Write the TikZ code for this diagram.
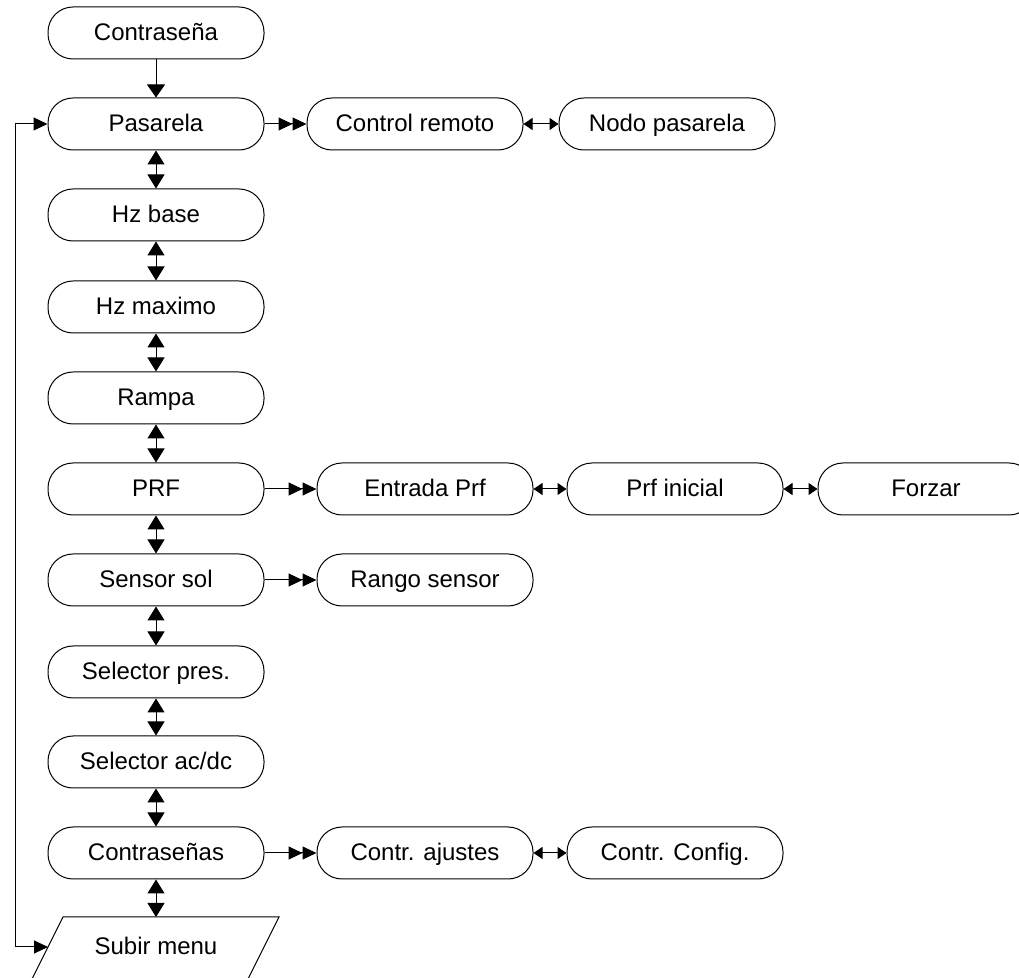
\documentclass[tikz,border=0pt]{standalone}
\usepackage{fontspec}
\setmainfont{Liberation Sans}
\usetikzlibrary{arrows.meta}
\begin{document}
\begin{tikzpicture}[x=0.5pt,y=-0.5pt,
  box/.style={draw,line width=0.5pt,rounded corners=12.5pt,minimum width=108pt,minimum height=26pt,inner sep=0pt,text height=7.6pt,text depth=0pt,font=\fontsize{12}{14}\selectfont},
  txt/.style={inner sep=0pt,text height=7.6pt,text depth=0pt,font=\fontsize{12}{14}\selectfont},
  conn/.style={line width=0.5pt},
  vv/.style={conn,{Triangle[length=7pt,width=8.5pt]}-{Triangle[length=7pt,width=8.5pt]}},
  dn/.style={conn,-{Triangle[length=6.5pt,width=9pt]}},
  dbl/.style={conn,-{Triangle[length=7pt,width=6.5pt,sep=0pt]Triangle[length=7pt,width=6.5pt]}},
  lr/.style={conn,{Triangle[length=4.5pt,width=6pt]}-{Triangle[length=4.5pt,width=6pt]}},
  loopar/.style={conn,{Triangle[length=7pt,width=6.5pt]}-{Triangle[length=7pt,width=6.5pt]}}]
\useasboundingbox (0,0) rectangle (1019,978);
\clip (0,0) rectangle (1019,978);
% main column
\node[box] (c0) at (156,33) {Contraseña};
\node[box] (c1) at (156,124) {Pasarela};
\node[box] (c2) at (156,215) {Hz base};
\node[box] (c3) at (156,307) {Hz maximo};
\node[box] (c4) at (156,398) {Rampa};
\node[box] (c5) at (156,489) {PRF};
\node[box] (c6) at (156,580) {Sensor sol};
\node[box] (c7) at (156,672) {Selector pres.};
\node[box] (c8) at (156,762) {Selector ac/dc};
\node[box] (c9) at (156,853) {Contraseñas};
% Subir menu parallelogram
\draw[line width=0.5pt] (63,917) -- (279,917) -- (245,985) -- (29,985) -- cycle;
\node[txt] (sub) at (156,947) {Subir menu};
\coordinate (subN) at (156,917);
\coordinate (subW) at (48,947);
% side nodes
\node[box] (cr) at (415,124) {Control remoto};
\node[box] (np) at (667,124) {Nodo pasarela};
\node[box] (ep) at (425,489) {Entrada Prf};
\node[box] (pi) at (675,489) {Prf inicial};
\node[box] (fz) at (926,489) {Forzar};
\node[box] (rs) at (425,580) {Rango sensor};
\node[box] (ca) at (425,853) {Contr. ajustes};
\node[box] (cc) at (675,853) {Contr. Config.};
% vertical connectors
\draw[dn] (c0.south) -- (c1.north);
\draw[vv] (c1.south) -- (c2.north);
\draw[vv] (c2.south) -- (c3.north);
\draw[vv] (c3.south) -- (c4.north);
\draw[vv] (c4.south) -- (c5.north);
\draw[vv] (c5.south) -- (c6.north);
\draw[vv] (c6.south) -- (c7.north);
\draw[vv] (c7.south) -- (c8.north);
\draw[vv] (c8.south) -- (c9.north);
\draw[vv] (c9.south) -- (subN);
% horizontal connectors
\draw[dbl] (c1.east) -- (cr.west);
\draw[lr] (cr.east) -- (np.west);
\draw[dbl] (c5.east) -- (ep.west);
\draw[lr] (ep.east) -- (pi.west);
\draw[lr] (pi.east) -- (fz.west);
\draw[dbl] (c6.east) -- (rs.west);
\draw[dbl] (c9.east) -- (ca.west);
\draw[lr] (ca.east) -- (cc.west);
% loop back
\coordinate (lt) at (15,124);
\coordinate (lb) at (15,947);
\draw[loopar] (c1.west) -- (lt) -- (lb) -- (subW);
\end{tikzpicture}
\end{document}
